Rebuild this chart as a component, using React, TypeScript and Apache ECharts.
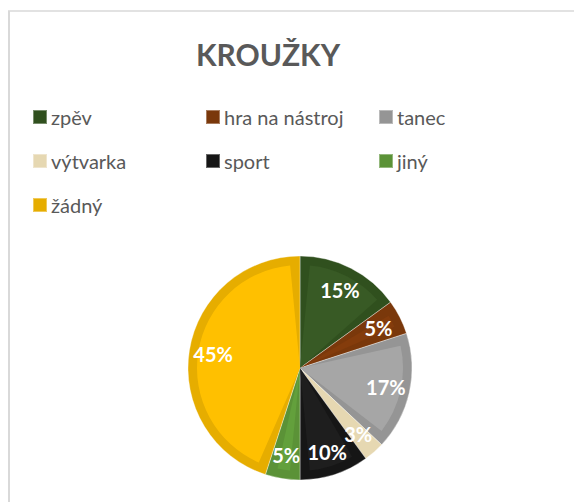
import React, { useEffect, useRef } from "react";
import * as echarts from "echarts";

const TITLE = "KROUŽKY";
const categories = ["zpěv", "hra na nástroj", "tanec", "výtvarka", "sport", "jiný", "žádný"];
const values = [15, 5, 17, 3, 10, 5, 45];
const rimColors = ["#30501e", "#7a380b", "#959595", "#e6d8b2", "#161616", "#5b9237", "#e6ad00"];
const fillColors = ["#385a25", "#843c0c", "#a6a6a6", "#ece1c2", "#1e1e1e", "#63a03c", "#ffc000"];
const legendColumns = [
  ["zpěv", "výtvarka", "žádný"],
  ["hra na nástroj", "sport"],
  ["tanec", "jiný"],
];

export default function App() {
  const ref = useRef<HTMLDivElement>(null);
  useEffect(() => {
    if (!ref.current) return;
    const chart = echarts.init(ref.current, null, { renderer: "svg" });
    const font = "Lato, 'Open Sans', sans-serif";
    const center = [292, 360];
    const colLeft = [24, 197, 370];
    chart.setOption({
      animation: false,
      textStyle: { fontFamily: font },
      legend: legendColumns.map((col, i) => ({
        orient: "vertical",
        left: colLeft[i],
        top: 99,
        padding: 0,
        data: col,
        itemWidth: 14,
        itemHeight: 14,
        itemGap: 24,
        icon: "rect",
        selectedMode: false,
        textStyle: { fontFamily: font, fontSize: 20, lineHeight: 20, color: "#595959", padding: [0, 0, 0, -1] },
      })),
      graphic: [
        { type: "line", shape: { x1: 0, y1: 3, x2: 574, y2: 3 }, style: { stroke: "#d9d9d9", lineWidth: 1.5 }, silent: true },
        { type: "line", shape: { x1: 1, y1: 3, x2: 1, y2: 494 }, style: { stroke: "#d9d9d9", lineWidth: 2 }, silent: true },
        {
          type: "text",
          x: 260,
          y: 46,
          style: {
            text: TITLE,
            textAlign: "center",
            textVerticalAlign: "middle",
            font: `bold 30px ${font}`,
            fill: "#595959",
          },
          silent: true,
        },
      ],
      series: [
        {
          type: "pie",
          center,
          radius: [0, 112],
          startAngle: 90,
          clockwise: true,
          silent: true,
          label: { show: false },
          labelLine: { show: false },
          itemStyle: { borderColor: "rgba(255,255,255,0.35)", borderWidth: 1 },
          data: categories.map((n, i) => ({ name: n, value: values[i], itemStyle: { color: rimColors[i] } })),
        },
        {
          type: "pie",
          center,
          radius: [0, 103],
          startAngle: 90,
          clockwise: true,
          padAngle: 11,
          silent: true,
          label: { show: false },
          labelLine: { show: false },
          data: categories.map((n, i) => ({ name: n, value: values[i], itemStyle: { color: fillColors[i] } })),
        },
        {
          type: "pie",
          center,
          radius: [58, 112],
          startAngle: 90,
          clockwise: true,
          silent: true,
          avoidLabelOverlap: false,
          labelLayout: { hideOverlap: false },
          itemStyle: { color: "transparent" },
          label: {
            show: true,
            position: "inside",
            formatter: (p: any) => `${p.value}%`,
            color: "#ffffff",
            fontFamily: font,
            fontWeight: "bold",
            fontSize: 20,
          },
          labelLine: { show: false },
          data: categories.map((n, i) => ({ name: n, value: values[i] })),
        },
      ],
    });
    return () => chart.dispose();
  }, []);
  return <div ref={ref} style={{ width: 574, height: 494 }} />;
}
